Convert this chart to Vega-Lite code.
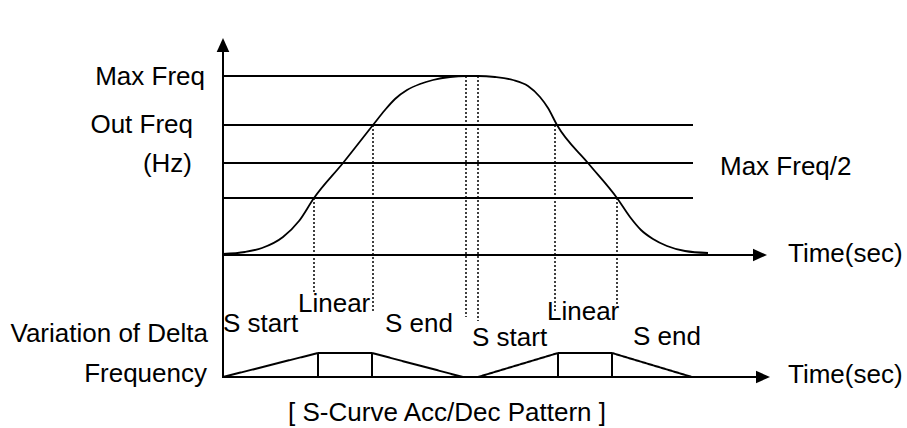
{
  "$schema": "https://vega.github.io/schema/vega-lite/v6.json",
  "width": 907,
  "height": 428,
  "padding": 0,
  "autosize": {"type": "fit", "contains": "padding"},
  "background": "white",
  "config": {"view": {"stroke": null}, "text": {"font": "Liberation Sans", "fontSize": 26, "color": "black"}},
  "datasets": {
    "segs": [
      {"x": 223, "y": 48, "x2": 223, "y2": 378, "kind": "solid"},
      {"x": 223, "y": 255, "x2": 754, "y2": 255, "kind": "solid"},
      {"x": 223, "y": 377, "x2": 757, "y2": 377, "kind": "solid"},
      {"x": 223, "y": 76, "x2": 470, "y2": 76, "kind": "solid"},
      {"x": 223, "y": 125, "x2": 693, "y2": 125, "kind": "solid"},
      {"x": 223, "y": 163, "x2": 693, "y2": 163, "kind": "solid"},
      {"x": 223, "y": 198, "x2": 693, "y2": 198, "kind": "solid"},
      {"x": 223, "y": 377, "x2": 318, "y2": 353, "kind": "solid"},
      {"x": 318, "y": 353, "x2": 372, "y2": 353, "kind": "solid"},
      {"x": 372, "y": 353, "x2": 463, "y2": 377, "kind": "solid"},
      {"x": 318, "y": 353, "x2": 318, "y2": 377, "kind": "solid"},
      {"x": 372, "y": 353, "x2": 372, "y2": 377, "kind": "solid"},
      {"x": 478, "y": 377, "x2": 558, "y2": 353, "kind": "solid"},
      {"x": 558, "y": 353, "x2": 612, "y2": 353, "kind": "solid"},
      {"x": 612, "y": 353, "x2": 692, "y2": 377, "kind": "solid"},
      {"x": 558, "y": 353, "x2": 558, "y2": 377, "kind": "solid"},
      {"x": 612, "y": 353, "x2": 612, "y2": 377, "kind": "solid"},
      {"x": 314, "y": 198, "x2": 314, "y2": 292, "kind": "dotted"},
      {"x": 373, "y": 125, "x2": 373, "y2": 313, "kind": "dotted"},
      {"x": 466, "y": 76, "x2": 466, "y2": 317, "kind": "dotted"},
      {"x": 478, "y": 76, "x2": 478, "y2": 321, "kind": "dotted"},
      {"x": 555, "y": 125, "x2": 555, "y2": 312, "kind": "dotted"},
      {"x": 617, "y": 198, "x2": 617, "y2": 306, "kind": "dotted"}
    ],
    "curve": [
      {"x": 223, "y": 254}, {"x": 245, "y": 252}, {"x": 262, "y": 248}, {"x": 283, "y": 237},
      {"x": 299, "y": 221}, {"x": 314, "y": 198}, {"x": 343, "y": 163}, {"x": 373, "y": 125},
      {"x": 385, "y": 110}, {"x": 395, "y": 99}, {"x": 407, "y": 90}, {"x": 420, "y": 84},
      {"x": 433, "y": 80}, {"x": 450, "y": 77}, {"x": 466, "y": 76}, {"x": 478, "y": 76},
      {"x": 495, "y": 77}, {"x": 513, "y": 80}, {"x": 528, "y": 86}, {"x": 540, "y": 97},
      {"x": 548, "y": 108}, {"x": 557, "y": 125}, {"x": 588, "y": 163}, {"x": 617, "y": 198},
      {"x": 630, "y": 217}, {"x": 641, "y": 230}, {"x": 653, "y": 239}, {"x": 667, "y": 246},
      {"x": 685, "y": 251}, {"x": 708, "y": 253}
    ],
    "arrows": [
      {"x": 223, "y": 45, "dir": "up"},
      {"x": 760, "y": 255, "dir": "right"},
      {"x": 763, "y": 377, "dir": "right"}
    ],
    "labelsRight": [
      {"x": 205, "y": 85, "label": "Max Freq"},
      {"x": 193, "y": 133, "label": "Out Freq"},
      {"x": 192, "y": 172, "label": "(Hz)"},
      {"x": 208, "y": 342, "label": "Variation of Delta"},
      {"x": 207, "y": 382, "label": "Frequency"}
    ],
    "labelsLeft": [
      {"x": 720, "y": 175, "label": "Max Freq/2"},
      {"x": 788, "y": 262, "label": "Time(sec)"},
      {"x": 788, "y": 383, "label": "Time(sec)"},
      {"x": 223, "y": 332, "label": "S start"},
      {"x": 298, "y": 312, "label": "Linear"},
      {"x": 385, "y": 332, "label": "S end"},
      {"x": 472, "y": 346, "label": "S start"},
      {"x": 547, "y": 320, "label": "Linear"},
      {"x": 633, "y": 345, "label": "S end"}
    ],
    "labelsCenter": [
      {"x": 447, "y": 421, "label": "[ S-Curve Acc/Dec Pattern ]"}
    ]
  },
  "encoding": {
    "x": {"field": "x", "type": "quantitative", "scale": {"domain": [0, 907], "nice": false, "zero": false}, "axis": null},
    "y": {"field": "y", "type": "quantitative", "scale": {"domain": [0, 428], "nice": false, "zero": false, "reverse": true}, "axis": null}
  },
  "layer": [
    {
      "data": {"name": "segs"},
      "mark": {"type": "rule", "color": "black"},
      "encoding": {
        "x2": {"field": "x2"},
        "y2": {"field": "y2"},
        "strokeDash": {"field": "kind", "type": "nominal", "scale": {"domain": ["solid", "dotted"], "range": [[1, 0], [2, 2]]}, "legend": null},
        "strokeWidth": {"field": "kind", "type": "nominal", "scale": {"domain": ["solid", "dotted"], "range": [2, 1.5]}, "legend": null}
      }
    },
    {
      "data": {"name": "curve"},
      "mark": {"type": "line", "color": "black", "strokeWidth": 1.8, "interpolate": "monotone"},
      "encoding": {}
    },
    {
      "data": {"name": "arrows"},
      "mark": {"type": "point", "filled": true, "color": "black", "opacity": 1, "size": 196},
      "encoding": {
        "shape": {"field": "dir", "type": "nominal", "scale": {"domain": ["up", "right"], "range": ["M0,-1L-0.9,1L0.9,1Z", "M1,0L-1,-0.9L-1,0.9Z"]}, "legend": null}
      }
    },
    {
      "data": {"name": "labelsRight"},
      "mark": {"type": "text", "align": "right", "baseline": "alphabetic"},
      "encoding": {"text": {"field": "label"}}
    },
    {
      "data": {"name": "labelsLeft"},
      "mark": {"type": "text", "align": "left", "baseline": "alphabetic"},
      "encoding": {"text": {"field": "label"}}
    },
    {
      "data": {"name": "labelsCenter"},
      "mark": {"type": "text", "align": "center", "baseline": "alphabetic"},
      "encoding": {"text": {"field": "label"}}
    }
  ]
}
